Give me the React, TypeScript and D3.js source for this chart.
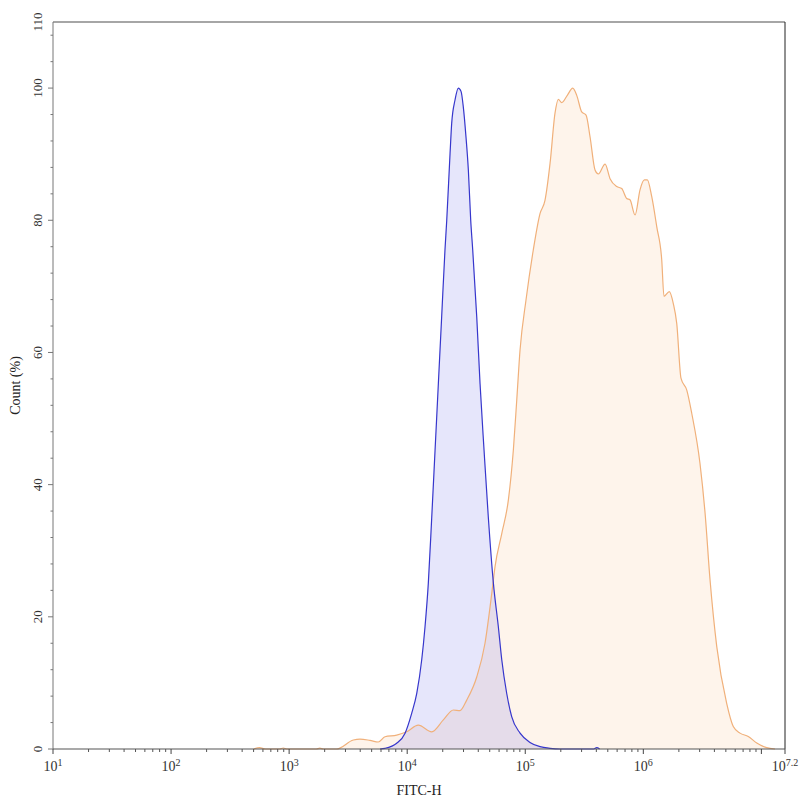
import * as d3 from "d3";

// FITC-H histograms: x as log10 exponent, y as % of modal count
const stainedExp = [
  2.7, 2.75, 2.8, 2.92, 2.95, 2.98, 3.23, 3.26, 3.29, 3.4, 3.544, 3.6, 3.685,
  3.755, 3.812, 3.911, 3.996, 4.094, 4.208, 4.306, 4.391, 4.447, 4.504, 4.589,
  4.659, 4.716, 4.744, 4.801, 4.857, 4.899, 4.928, 4.956, 5.006, 5.068, 5.125,
  5.167, 5.21, 5.252, 5.28, 5.309, 5.356, 5.402, 5.436, 5.478, 5.515, 5.549,
  5.591, 5.619, 5.676, 5.718, 5.775, 5.817, 5.859, 5.887, 5.93, 5.972, 6.009,
  6.034, 6.071, 6.114, 6.156, 6.175, 6.22, 6.254, 6.283, 6.319, 6.368, 6.41,
  6.48, 6.523, 6.565, 6.622, 6.706, 6.762, 6.819, 6.889, 6.961, 7.045, 7.115,
];
const stainedPct = [
  0, 0.2, 0, 0, 0.15, 0, 0, 0.12, 0, 0, 1.36, 1.5, 1.3, 1.06, 1.86, 2.1, 2.6,
  3.6, 2.6, 4.4, 5.9, 5.8, 7.4, 10.9, 16, 23.5, 27.6, 32.6, 37.7, 45.2, 52.8,
  60.4, 67.9, 75.5, 81, 83, 88.6, 96.2, 98.3, 97.8, 98.9, 100, 98.9, 96.4,
  95.9, 92.6, 87.6, 87, 88.5, 86.3, 85.1, 84.8, 83.3, 83.1, 80.8, 84.6, 86.1,
  86.1, 83.6, 79, 74, 68.5, 69.2, 67.4, 64.4, 56.1, 54.3, 50.8, 43.2, 35.7,
  25.6, 15.5, 6.9, 3.4, 2.4, 1.9, 0.9, 0.2, 0,
];

const controlExp = [
  3.77, 3.812, 3.911, 3.982, 4.038, 4.081, 4.123, 4.151, 4.179, 4.208, 4.236,
  4.264, 4.292, 4.32, 4.335, 4.363, 4.377, 4.405, 4.433, 4.456, 4.475, 4.498,
  4.518, 4.538, 4.555, 4.589, 4.617, 4.651, 4.687, 4.73, 4.772, 4.801, 4.843,
  4.885, 4.956, 5.04, 5.125, 5.21, 5.294, 5.58, 5.605, 5.63,
];
const controlPct = [
  0, 0.1, 0.86, 2.4, 5.4, 8.4, 13.5, 18.5, 25.1, 35.1, 45.2, 55.3, 65.4, 75.5,
  80, 90.1, 94.7, 98.2, 100, 99.5, 97.2, 92.6, 87.6, 80, 75.5, 65.4, 55.3,
  45.2, 35.1, 25.1, 18.5, 13.5, 8.4, 4.9, 2.4, 1, 0.35, 0.1, 0, 0, 0.2, 0,
];

const yLabels = [0, 20, 40, 60, 80, 100, 110];
const xDecades = [1, 2, 3, 4, 5, 6];
const xMax = 7.2;

interface Pt {
  e: number;
  v: number;
}

export default function App() {
  const w = 800,
    h = 800,
    m = { top: 22, right: 15, bottom: 51, left: 53 };

  const x = d3
    .scaleLog()
    .domain([10, Math.pow(10, xMax)])
    .range([m.left, w - m.right]);
  const y = d3
    .scaleLinear()
    .domain([0, 110])
    .range([h - m.bottom, m.top]);

  const px = (e: number) => x(Math.pow(10, e));

  const area = d3
    .area<Pt>()
    .x((d) => px(d.e))
    .y0(y(0))
    .y1((d) => y(d.v))
    .curve(d3.curveMonotoneX);
  const line = d3
    .line<Pt>()
    .x((d) => px(d.e))
    .y((d) => y(d.v))
    .curve(d3.curveMonotoneX);

  const stained = stainedExp.map((e, i) => ({ e, v: stainedPct[i] }));
  const control = controlExp.map((e, i) => ({ e, v: controlPct[i] }));

  /* ── tick positions ───────────────────── */
  const yMinor = d3.range(0, 110, 4);
  const xMinor: number[] = [];
  for (let d = 1; d <= 7; d++)
    for (let k = 2; k <= 9; k++) {
      const v = k * Math.pow(10, d);
      if (Math.log10(v) <= xMax) xMinor.push(v);
    }

  const x0 = x.range()[0],
    x1 = x.range()[1],
    y0 = y(0),
    y1 = y(110);
  const font = "'Liberation Serif', 'Times New Roman', serif";

  return (
    <svg
      width={w}
      height={h}
      style={{ position: "absolute", left: 0, top: 0, background: "#fff" }}
      fontFamily={font}
    >
      {/* histograms */}
      <path d={area(stained)!} fill="rgba(245,180,110,0.14)" />
      <path d={area(control)!} fill="rgba(100,100,230,0.16)" />
      <path d={line(stained)!} fill="none" stroke="#f0b07a" strokeWidth={1.2} />
      <path d={line(control)!} fill="none" stroke="#3636cc" strokeWidth={1.2} />

      {/* frame */}
      <line x1={x0} x2={x1} y1={y1} y2={y1} stroke="#888" strokeWidth={1.5} />
      <line x1={x1} x2={x1} y1={y1} y2={y0} stroke="#222" strokeWidth={1} />
      <line x1={x0} x2={x0} y1={y1} y2={y0} stroke="#777" strokeWidth={1} />
      <line x1={x0} x2={x1} y1={y0} y2={y0} stroke="#555" strokeWidth={1.2} />

      {/* y ticks */}
      {yMinor.map((t) => (
        <line key={"ym" + t} x1={x0 - (t % 20 === 0 ? 5 : 2.5)} x2={x0} y1={y(t)} y2={y(t)} stroke="#777" />
      ))}
      {yLabels.map((t) => (
        <text
          key={"yl" + t}
          transform={`translate(42,${y(t)}) rotate(-90)`}
          textAnchor="middle"
          fontSize={13}
          fill="#333"
        >
          {t}
        </text>
      ))}
      <text
        transform={`translate(20,${(y0 + y1) / 2}) rotate(-90)`}
        textAnchor="middle"
        fontSize={14}
        fill="#222"
      >
        Count (%)
      </text>

      {/* x ticks */}
      {xMinor.map((v) => (
        <line key={"xm" + v} x1={x(v)} x2={x(v)} y1={y0} y2={y0 + 3} stroke="#555" />
      ))}
      {[...xDecades, 7, xMax].map((d) => (
        <line key={"xM" + d} x1={px(d)} x2={px(d)} y1={y0} y2={y0 + 5} stroke="#444" />
      ))}
      {[...xDecades, xMax].map((d) => (
        <text key={"xl" + d} x={px(d)} y={771} textAnchor="middle" fontSize={14} fill="#333">
          10
          <tspan fontSize={10} dy={-5}>
            {d}
          </tspan>
        </text>
      ))}
      <text x={(x0 + x1) / 2} y={795} textAnchor="middle" fontSize={14} fill="#222">
        FITC-H
      </text>
    </svg>
  );
}
